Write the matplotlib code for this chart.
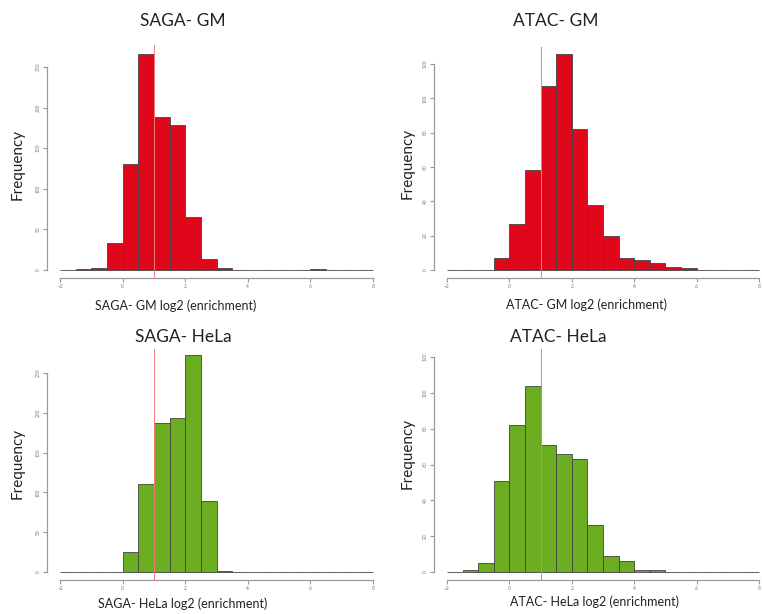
import numpy as np
import matplotlib
matplotlib.use("Agg")
import matplotlib.pyplot as plt

plt.rcParams['font.family'] = ['Lato', 'DejaVu Sans']

# bins of width 0.5 from -2 to 8
bin_edges = np.arange(-2, 8.01, 0.5)
threshold = 1

saga_gm = [0, 1, 2, 33, 131, 266, 188, 178, 65, 14, 3, 0, 0, 0, 0, 0, 1, 0, 0, 0]
atac_gm = [0, 0, 0, 7, 27, 58, 107, 126, 82, 38, 20, 7, 6, 4, 2, 1, 0, 0, 0, 0]
saga_hela = [0, 0, 0, 0, 25, 110, 187, 194, 272, 89, 1, 0, 0, 0, 0, 0, 0, 0, 0, 0]
atac_hela = [0, 1, 5, 51, 82, 104, 71, 66, 63, 26, 9, 6, 1, 1, 0, 0, 0, 0, 0, 0]

titles = ["SAGA- GM", "ATAC- GM", "SAGA- HeLa", "ATAC- HeLa"]
xlabels = ["SAGA- GM log2 (enrichment)", "ATAC- GM log2 (enrichment)",
           "SAGA- HeLa log2 (enrichment)", "ATAC- HeLa log2 (enrichment)"]
x_ticks = [-2, 0, 2, 4, 6, 8]
saga_yticks = [0, 50, 100, 150, 200, 250]
atac_yticks = [0, 20, 40, 60, 80, 100, 120]

RED = "#e0071b"
GREEN = "#6aad20"

W, H = 762, 614
fig = plt.figure(figsize=(W / 100, H / 100), dpi=100)


def px_axes(x0, x1, ybot, ytop):
    return fig.add_axes([x0 / W, 1 - ybot / H, (x1 - x0) / W, (ybot - ytop) / H])


def px_text(x, y, s, **kw):
    fig.text(x / W, 1 - y / H, s, ha="center", va="center", color="#222222", **kw)


# panel layout in pixels: x0, x1, y of 0, y of top tick, red line top pixel,
# title pos, ylabel pos, xlabel pos
panels = [
    (saga_gm, RED, saga_yticks, (60, 373, 270, 67), 45, (183, 21), (18, 164), (176, 306)),
    (atac_gm, RED, atac_yticks, (447, 759, 270, 64), 47, (556, 21), (408, 163), (586, 305)),
    (saga_hela, GREEN, saga_yticks, (60, 373, 572, 373), 349, (183, 337), (18, 463), (183, 604)),
    (atac_hela, GREEN, atac_yticks, (447, 759, 572, 357), 349, (558, 337), (408, 453), (594, 602)),
]

for i, (counts, color, yticks, box, line_top, tpos, ypos, xpos) in enumerate(panels):
    x0, x1, ybot, ytop = box
    ax = px_axes(x0, x1, ybot, ytop)
    ax.bar(bin_edges[:-1], counts, width=0.5, align="edge", color=color,
           edgecolor="#444444", linewidth=0.6, clip_on=False)
    ax.set_xlim(-2, 8)
    ax.set_ylim(0, yticks[-1])
    hgt = ybot - ytop
    ax.axvline(threshold, ymin=-8 / hgt, ymax=1 + (ytop - line_top) / hgt,
               color="#f27a7a", linewidth=0.7, clip_on=False, zorder=3)

    for s in ["top", "right"]:
        ax.spines[s].set_visible(False)
    ax.spines["left"].set_position(("outward", 9.5))
    ax.spines["bottom"].set_position(("outward", 5.8))
    ax.spines["left"].set_bounds(0, yticks[-1])
    ax.spines["bottom"].set_bounds(-2, 8)
    for s in ["left", "bottom"]:
        ax.spines[s].set_color("#999999")
        ax.spines[s].set_linewidth(0.9)
    ax.set_xticks(x_ticks)
    ax.set_yticks(yticks)
    ax.set_yticklabels([str(v) for v in yticks], rotation=90, va="center")
    ax.tick_params(colors="#999999", labelcolor="#777777", labelsize=3.5,
                   length=3, width=0.8, pad=1.5)
    ax.patch.set_alpha(0)

    px_text(*tpos, titles[i], fontsize=12.5)
    px_text(*ypos, "Frequency", fontsize=11, rotation=90)
    px_text(*xpos, xlabels[i], fontsize=9)

fig.savefig("out.png", dpi=100)
